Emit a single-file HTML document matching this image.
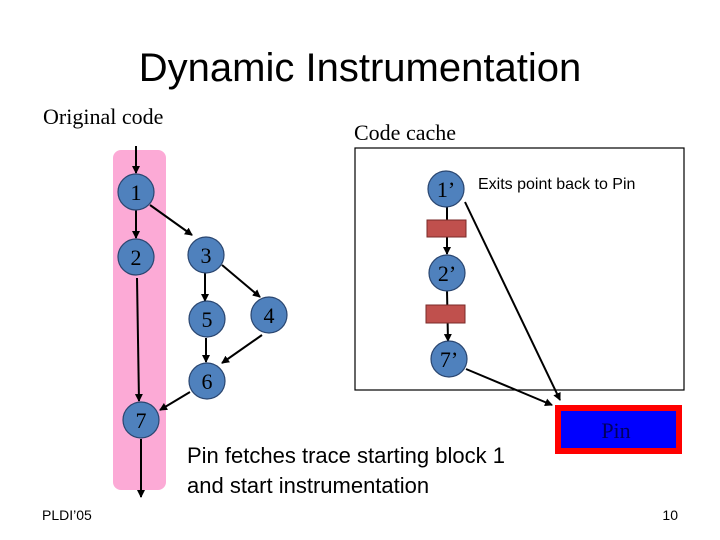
<!DOCTYPE html>
<html><head><meta charset="utf-8"><style>
body{margin:0;background:#fff;}
svg{display:block;}
</style></head><body>
<svg width="720" height="540" xmlns="http://www.w3.org/2000/svg">
<defs>
<marker id="a" markerWidth="8" markerHeight="8" refX="7" refY="4" orient="auto" markerUnits="userSpaceOnUse"><path d="M0,0 L8,4 L0,8 z" fill="#000"/></marker>
</defs>
<text x="360" y="81" font-family="Liberation Sans, sans-serif" font-size="40" text-anchor="middle">Dynamic Instrumentation</text>
<text x="43" y="124" font-family="Liberation Serif, serif" font-size="22">Original code</text>
<text x="354" y="140" font-family="Liberation Serif, serif" font-size="22">Code cache</text>
<rect x="113" y="150" width="53" height="340" rx="8" fill="#fcaad6"/>
<rect x="355" y="148" width="329" height="242" fill="#fff" stroke="#000" stroke-width="1.2"/>
<g stroke="#000" stroke-width="2" fill="none" marker-end="url(#a)">
<line x1="136" y1="146" x2="136" y2="173"/>
<line x1="136" y1="210" x2="136" y2="238"/>
<line x1="150" y1="205" x2="192" y2="235"/>
<line x1="137" y1="278" x2="139" y2="401"/>
<line x1="205" y1="273" x2="205" y2="301"/>
<line x1="222" y1="265" x2="260" y2="297"/>
<line x1="206" y1="338" x2="206" y2="362"/>
<line x1="262" y1="335" x2="222" y2="363"/>
<line x1="190" y1="392" x2="160" y2="410"/>
<line x1="141" y1="439" x2="141" y2="497"/>
<line x1="447" y1="207" x2="447" y2="254"/>
<line x1="447" y1="291" x2="448" y2="341"/>
<line x1="465" y1="202" x2="560" y2="400"/>
<line x1="466" y1="369" x2="552" y2="405"/>
</g>
<g fill="#4f81bd" stroke="#2a4670" stroke-width="1.2">
<circle cx="136" cy="192" r="18"/><circle cx="136" cy="257" r="18"/>
<circle cx="206" cy="255" r="18"/><circle cx="207" cy="319" r="18"/>
<circle cx="269" cy="315" r="18"/><circle cx="207" cy="381" r="18"/>
<circle cx="141" cy="420" r="18"/>
<circle cx="446" cy="189" r="18"/><circle cx="447" cy="273" r="18"/><circle cx="449" cy="359" r="18"/>
</g>
<g fill="#c0504d" stroke="#7a2a28" stroke-width="1">
<rect x="427" y="220" width="39" height="17"/><rect x="426" y="305" width="39" height="18"/>
</g>
<g font-family="Liberation Serif, serif" font-size="22" text-anchor="middle">
<text x="136" y="200">1</text><text x="136" y="265">2</text><text x="206" y="263">3</text>
<text x="207" y="327">5</text><text x="269" y="323">4</text><text x="207" y="389">6</text>
<text x="141" y="428">7</text><text x="446" y="197">1’</text><text x="447" y="281">2’</text><text x="449" y="367">7’</text>
</g>
<text x="478" y="189" font-family="Liberation Sans, sans-serif" font-size="16">Exits point back to Pin</text>
<rect x="558" y="408" width="121" height="43" fill="#0000ff" stroke="#ff0000" stroke-width="6"/>
<text x="616" y="438" font-family="Liberation Serif, serif" font-size="22" text-anchor="middle" fill="#000060">Pin</text>
<text x="187" y="463" font-family="Liberation Sans, sans-serif" font-size="22">Pin fetches trace starting block 1</text>
<text x="187" y="493" font-family="Liberation Sans, sans-serif" font-size="22">and start instrumentation</text>
<text x="42" y="520" font-family="Liberation Sans, sans-serif" font-size="14">PLDI’05</text>
<text x="678" y="520" font-family="Liberation Sans, sans-serif" font-size="14" text-anchor="end">10</text>
</svg>
</body></html>
